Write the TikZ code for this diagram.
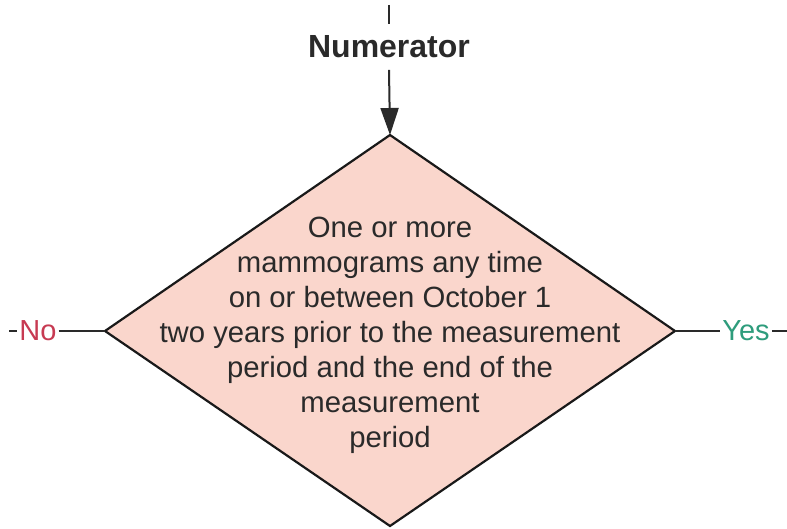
\documentclass[tikz,border=0pt]{standalone}
\usepackage{fontspec}
\setmainfont{Liberation Sans}
\usetikzlibrary{arrows.meta}
\definecolor{dfill}{HTML}{FAD6CC}
\definecolor{txt}{HTML}{2A2A2A}
\definecolor{nored}{HTML}{C73A52}
\definecolor{yesgreen}{HTML}{2E9C7C}
\tikzset{
  conn/.style={line width=2pt, draw=txt},
  lbl/.style={inner xsep=2pt, inner ysep=0pt, font=\fontsize{29}{34}\selectfont},
}
\begin{document}
\begin{tikzpicture}[x=1pt,y=-1pt]
\useasboundingbox (0,0) rectangle (787,529);
\coordinate (T) at (390,135);
\coordinate (B) at (390,526);
\coordinate (L) at (105,331);
\coordinate (R) at (675,331);
\draw[line width=2.2pt, draw=black!90, fill=dfill, line join=miter] (T) -- (R) -- (B) -- (L) -- cycle;
\node[align=center, text=txt, font=\fontsize{29.3}{35}\selectfont] (cond) at (390,335)
  {One or more\\mammograms any time\\on or between October 1\\two years prior to the measurement\\period and the end of the\\measurement\\period};
\node[inner xsep=0pt, inner ysep=11.5pt, text=txt, font=\fontsize{32}{36}\selectfont\bfseries] (num) at (389,47) {Numerator};
\coordinate (top) at (389,5);
\draw[conn] (top) -- (num.north);
\draw[conn, -{Triangle[width=18pt,length=27pt]}] (num.south) -- (T);
\node[lbl, text=nored] (no) at (38,331) {No};
\coordinate (lend) at (9,331);
\draw[conn] (lend) -- (no.west);
\draw[conn] (no.east) -- (L);
\node[lbl, text=yesgreen] (yes) at (746,331) {Yes};
\coordinate (rend) at (787,331);
\draw[conn] (R) -- (yes.west);
\draw[conn] (yes.east) -- (rend);
\end{tikzpicture}
\end{document}
